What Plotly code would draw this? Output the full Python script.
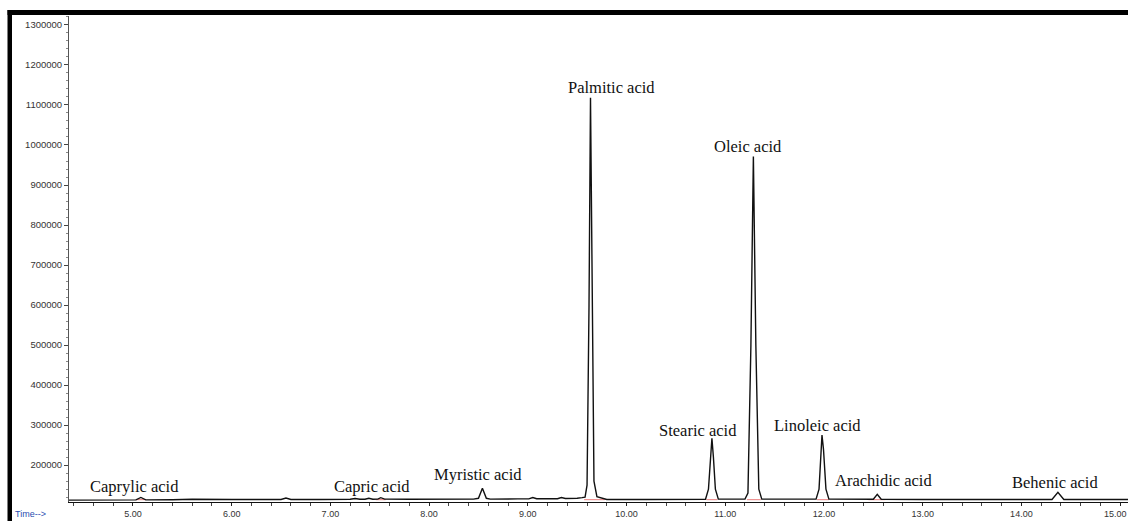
import plotly.graph_objects as go

# Retention time (min) and detector abundance of the FAME chromatogram
rt = [4.35, 4.60, 4.90, 5.03, 5.08, 5.13, 5.40, 5.60, 6.00, 6.50, 6.55, 6.60,
      6.90, 7.20, 7.25, 7.30, 7.35, 7.39, 7.43, 7.48, 7.51, 7.55, 7.80, 8.20,
      8.45, 8.50, 8.54, 8.58, 8.62, 8.90, 9.01, 9.05, 9.09, 9.30, 9.34, 9.38,
      9.42, 9.50, 9.55, 9.58, 9.60, 9.62, 9.635, 9.65, 9.67, 9.70, 9.75, 9.80,
      10.20, 10.60, 10.80, 10.83, 10.85, 10.865, 10.88, 10.90, 10.93, 11.20,
      11.23, 11.26, 11.285, 11.31, 11.34, 11.37, 11.70, 11.92, 11.95, 11.968,
      11.98, 11.995, 12.02, 12.05, 12.20, 12.50, 12.54, 12.58, 13.00, 13.60,
      14.31, 14.37, 14.43, 14.80, 15.08]
abundance = [112500, 113000, 113000, 113000, 119000, 113000, 113500, 114500,
             114000, 114000, 117500, 114000, 114000, 114500, 116500, 114500,
             114500, 117000, 114500, 115000, 118500, 115000, 114500, 114500,
             115000, 117000, 142000, 117000, 115000, 115500, 115500, 119000,
             116000, 116000, 119000, 116500, 116500, 117000, 118500, 120000,
             150000, 600000, 1118000, 600000, 160000, 121000, 118000, 114000,
             114000, 114000, 114500, 140000, 220000, 267000, 220000, 140000,
             115000, 115000, 130000, 500000, 971000, 500000, 140000, 115000,
             115000, 115000, 140000, 240000, 275000, 240000, 140000, 115000,
             115000, 114500, 127000, 114500, 114000, 114000, 114000, 132000,
             114000, 114000, 114000]

# Integration baseline segments (start, end) in minutes
integ_start = [5.03, 7.46, 9.57, 10.81, 11.22, 11.93, 12.45]
integ_end = [5.13, 7.56, 9.78, 10.92, 11.36, 12.05, 12.62]
integ_level = 113500

# Peak identifications: label, position (min), label height (abundance)
peak_names = ["Caprylic acid", "Capric acid", "Myristic acid", "Palmitic acid",
              "Stearic acid", "Oleic acid", "Linoleic acid", "Arachidic acid",
              "Behenic acid"]
label_rt = [5.02, 7.42, 8.50, 9.85, 10.72, 11.23, 11.93, 12.60, 14.34]
label_abund = [147600, 147600, 177500, 1143000, 287000, 995700, 299800,
               162600, 157600]

y_ticks = list(range(200000, 1300001, 100000))
x_ticks = [5, 6, 7, 8, 9, 10, 11, 12, 13, 14, 15]
x_tick_text = [f"{v:.2f}" for v in x_ticks]

W, H = 1128, 521
ML, MR, MT, MB = 69, 0, 16, 19
PW, PH = W - ML - MR, H - MT - MB


def px_x(px):
    return (px - ML) / PW


def px_y(py):
    return (H - MB - py) / PH


fig = go.Figure()

ix, iy = [], []
for s, e in zip(integ_start, integ_end):
    ix += [s, e, None]
    iy += [integ_level, integ_level, None]
fig.add_trace(go.Scatter(x=ix, y=iy, mode="lines",
                         line=dict(color="rgba(225,80,80,0.75)", width=1),
                         hoverinfo="skip", showlegend=False))

fig.add_trace(go.Scatter(x=rt, y=abundance, mode="lines",
                         line=dict(color="#111111", width=1.4),
                         showlegend=False))

for name, xr, ya in zip(peak_names, label_rt, label_abund):
    fig.add_annotation(x=xr, y=ya, text=name, showarrow=False,
                       font=dict(family="Liberation Serif", size=16.5,
                                 color="#111111"))

fig.add_annotation(x=px_x(13), y=px_y(514), xref="paper", yref="paper",
                   text="Time-->", showarrow=False, xanchor="left",
                   yanchor="middle",
                   font=dict(family="Liberation Sans", size=9,
                             color="#2a4cb0"))

tick_font = dict(family="Liberation Sans", size=9.5, color="#333333")
xtick_font = dict(family="Liberation Sans", size=9, color="#333333")

# The last time label sits at the window edge, so it is right-aligned there
fig.add_annotation(x=px_x(W - 0.5), y=px_y(513.5), xref="paper",
                   yref="paper", text=x_tick_text[-1], showarrow=False,
                   xanchor="right", yanchor="middle", borderpad=0,
                   font=xtick_font)
x_tick_text[-1] = ""

# Thick black frame on the top and left of the window
fig.add_shape(type="rect", xref="paper", yref="paper",
              x0=px_x(7.5), x1=px_x(12), y0=px_y(521), y1=px_y(10),
              fillcolor="black", line_width=0, layer="above")
fig.add_shape(type="rect", xref="paper", yref="paper",
              x0=px_x(7.5), x1=px_x(W), y0=px_y(15), y1=px_y(10),
              fillcolor="black", line_width=0, layer="above")

fig.update_xaxes(range=[4.352, 15.08], tickvals=x_ticks, ticktext=x_tick_text,
                 ticks="outside", ticklen=3, tickcolor="#222222",
                 ticklabeloverflow="allow", automargin=False,
                 showline=True, linecolor="#111111", linewidth=1,
                 showgrid=False, zeroline=False, tickfont=xtick_font,
                 minor=dict(dtick=0.2, tick0=5, ticks="outside", ticklen=3,
                            tickcolor="#444444", showgrid=False))
fig.update_yaxes(range=[107700, 1322400], tickvals=y_ticks, tickformat="d",
                 ticks="outside", ticklen=4, tickcolor="#444444",
                 automargin=False,
                 showline=True, linecolor="#555555", linewidth=1,
                 showgrid=False, zeroline=False, tickfont=tick_font,
                 minor=dict(dtick=20000, tick0=0, ticks="outside", ticklen=2,
                            tickcolor="#888888", showgrid=False))

fig.update_layout(width=W, height=H,
                  margin=dict(l=ML, r=MR, t=MT, b=MB, pad=0),
                  plot_bgcolor="white", paper_bgcolor="white")

fig.write_html("out.html")
